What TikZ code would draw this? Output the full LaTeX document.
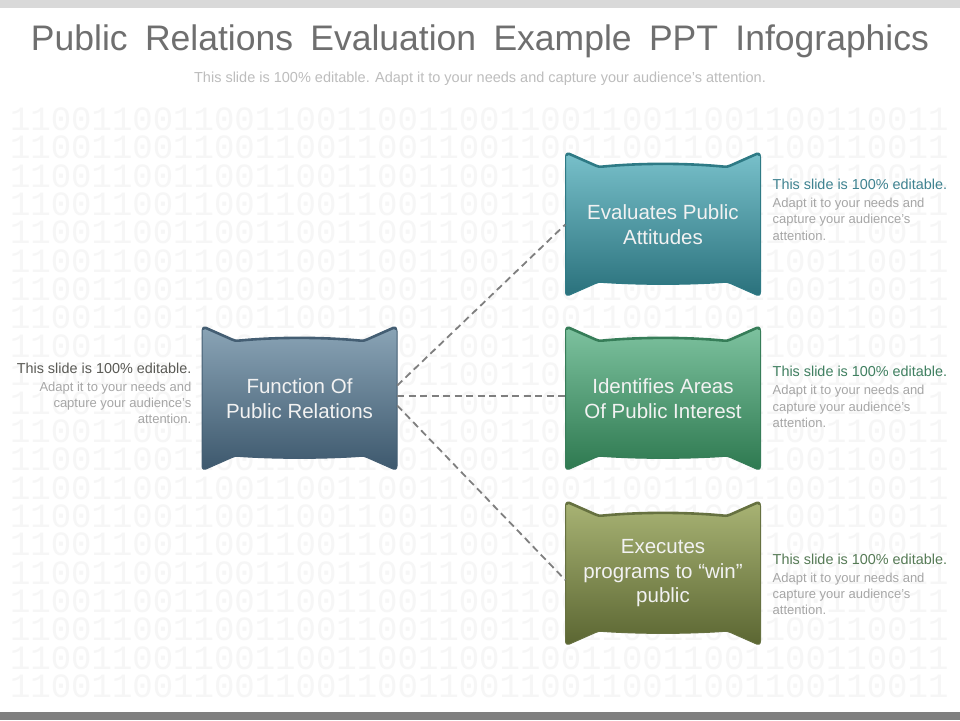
\documentclass[tikz,border=0pt]{standalone}
\usepackage{fontspec}
\setmainfont{Liberation Sans}
\newfontfamily\digitfont{Liberation Mono}
\definecolor{topbar}{HTML}{D9D9D9}
\definecolor{botbar}{HTML}{7F7F7F}
\definecolor{titlegray}{HTML}{6F6F6F}
\definecolor{subgray}{HTML}{BDBDBD}
\definecolor{bodygray}{HTML}{A6A6A6}
\definecolor{digitgray}{HTML}{F6F6F6}
\definecolor{conngray}{HTML}{7F7F7F}
\definecolor{lefttop}{HTML}{8AA4B6}
\definecolor{leftbot}{HTML}{3D586D}
\definecolor{leftrim}{HTML}{445E73}
\definecolor{tealtop}{HTML}{78C0CA}
\definecolor{tealbot}{HTML}{2A717C}
\definecolor{tealrim}{HTML}{2E7A85}
\definecolor{greentop}{HTML}{7DC29F}
\definecolor{greenbot}{HTML}{2E7950}
\definecolor{greenrim}{HTML}{367D58}
\definecolor{olivetop}{HTML}{A8B374}
\definecolor{olivebot}{HTML}{5B6632}
\definecolor{oliverim}{HTML}{667140}
\definecolor{leadleft}{HTML}{5A5A55}
\definecolor{leadteal}{HTML}{3E8290}
\definecolor{leadgreen}{HTML}{3F7F60}
\definecolor{leadolive}{HTML}{557A55}
\newcommand\bnpath{(0,4) .. controls (0,1) and (2,0) .. (4,1)
  -- (30,12.5) .. controls (32,13.5) and (34,14) .. (38,13.5)
  .. controls (75,10) and (120,10) .. (157,13.5)
  .. controls (161,14) and (163,13.5) .. (165,12.5)
  -- (191,1) .. controls (193,0) and (195,1) .. (195,4)
  -- (195,139) .. controls (195,142) and (193,143) .. (191,142)
  -- (165,130.5) .. controls (163,129.5) and (161,129) .. (157,129.5)
  .. controls (120,132) and (75,132) .. (38,129.5)
  .. controls (34,129) and (32,129.5) .. (30,130.5)
  -- (4,142) .. controls (2,143) and (0,142) .. (0,139) -- cycle}
\newcommand\bnlip{(1,2) .. controls (1.5,0.8) and (2.5,0.5) .. (4,1)
  -- (30,12.5) .. controls (32,13.5) and (34,14) .. (38,13.5)
  .. controls (75,10) and (120,10) .. (157,13.5)
  .. controls (161,14) and (163,13.5) .. (165,12.5)
  -- (191,1) .. controls (192.5,0.5) and (193.5,0.8) .. (194,2)}
\newcommand\bnbox[5]{%
  \begin{scope}[shift={(#1,#2)}]
    \shade[top color=#3, bottom color=#4, draw=#5, line width=1pt] \bnpath;
    \draw[#5, line width=2.6pt, line cap=round, line join=round] \bnlip;
  \end{scope}}
\begin{document}
\begin{tikzpicture}[x=1pt,y=-1pt,
  digits/.style={anchor=base west, inner sep=0pt, text=digitgray,
    font=\digitfont\fontsize{34}{34}\selectfont},
  boxtext/.style={inner sep=0pt, minimum width=195pt, minimum height=143pt,
    align=center, text=white!95!black,
    font=\fontsize{20.5}{24.5}\selectfont},
  leadline/.style={inner sep=0pt, font=\fontsize{14.4}{16}\selectfont},
  bodyline/.style={inner sep=0pt, text=bodygray, font=\fontsize{13}{16}\selectfont},
  conn/.style={draw=conngray, line width=1.8pt, dash pattern=on 7pt off 4.5pt}]
\useasboundingbox (0,0) rectangle (960,720);
\fill[white] (0,0) rectangle (960,720);
\fill[topbar] (0,0) rectangle (960,7.5);
\fill[botbar] (0,712) rectangle (960,720);
\foreach \k in {0,...,20}{
  \node[digits] (bin\k) at ({9.8},{130.5+28.35*\k}) {1100110011001100110011001100110011001100110011};
}
\node[anchor=base, inner sep=0pt, text=titlegray,
  font=\fontsize{35.5}{40}\selectfont] (title) at (480,50)
  {\spaceskip=17.4pt Public Relations Evaluation Example PPT Infographics};
\node[anchor=base, inner sep=0pt, text=subgray, font=\fontsize{14.5}{16}\selectfont] (subtitle) at (480,82.5)
  {This slide is 100\% editable. Adapt it to your needs and capture your audience's attention.};
% boxes
\bnbox{202}{327}{lefttop}{leftbot}{leftrim}
\bnbox{565.5}{153}{tealtop}{tealbot}{tealrim}
\bnbox{565.5}{327}{greentop}{greenbot}{greenrim}
\bnbox{565.5}{502}{olivetop}{olivebot}{oliverim}
\node[boxtext] (L) at (299.5,398.5) {Function Of\\Public Relations};
\node[boxtext] (T) at (663,224.5) {Evaluates Public\\Attitudes};
\node[boxtext] (M) at (663,398.5) {Identifies Areas\\Of Public Interest};
\node[boxtext] (B) at (663,573.5) {Executes\\programs to “win”\\public};
% connectors
\draw[conn] ([yshift=13pt]L.east) -- (T.west);
\draw[conn] ([yshift=2.5pt]L.east) -- ([yshift=2.5pt]M.west);
\draw[conn] ([yshift=-7pt]L.east) -- ([yshift=-6.5pt]B.west);
% left text
\node[leadline, anchor=base east, text=leadleft] (l1) at (191.5,373.3) {This slide is 100\% editable.};
\node[bodyline, anchor=base east] (l2) at (191.5,391.5) {Adapt it to your needs and};
\node[bodyline, anchor=base east] (l3) at (191.5,407.7) {capture your audience's};
\node[bodyline, anchor=base east] (l4) at (191.5,423.9) {attention.};
% top right text
\node[leadline, anchor=base west, text=leadteal] (t1) at (772.5,189.5) {This slide is 100\% editable.};
\node[bodyline, anchor=base west] (t2) at (772.5,207.7) {Adapt it to your needs and};
\node[bodyline, anchor=base west] (t3) at (772.5,223.9) {capture your audience's};
\node[bodyline, anchor=base west] (t4) at (772.5,240.1) {attention.};
% middle right text
\node[leadline, anchor=base west, text=leadgreen] (m1) at (772.5,376.7) {This slide is 100\% editable.};
\node[bodyline, anchor=base west] (m2) at (772.5,394.9) {Adapt it to your needs and};
\node[bodyline, anchor=base west] (m3) at (772.5,411.1) {capture your audience's};
\node[bodyline, anchor=base west] (m4) at (772.5,427.3) {attention.};
% bottom right text
\node[leadline, anchor=base west, text=leadolive] (b1) at (772.5,564) {This slide is 100\% editable.};
\node[bodyline, anchor=base west] (b2) at (772.5,582.2) {Adapt it to your needs and};
\node[bodyline, anchor=base west] (b3) at (772.5,598.4) {capture your audience's};
\node[bodyline, anchor=base west] (b4) at (772.5,614.6) {attention.};
\end{tikzpicture}
\end{document}
